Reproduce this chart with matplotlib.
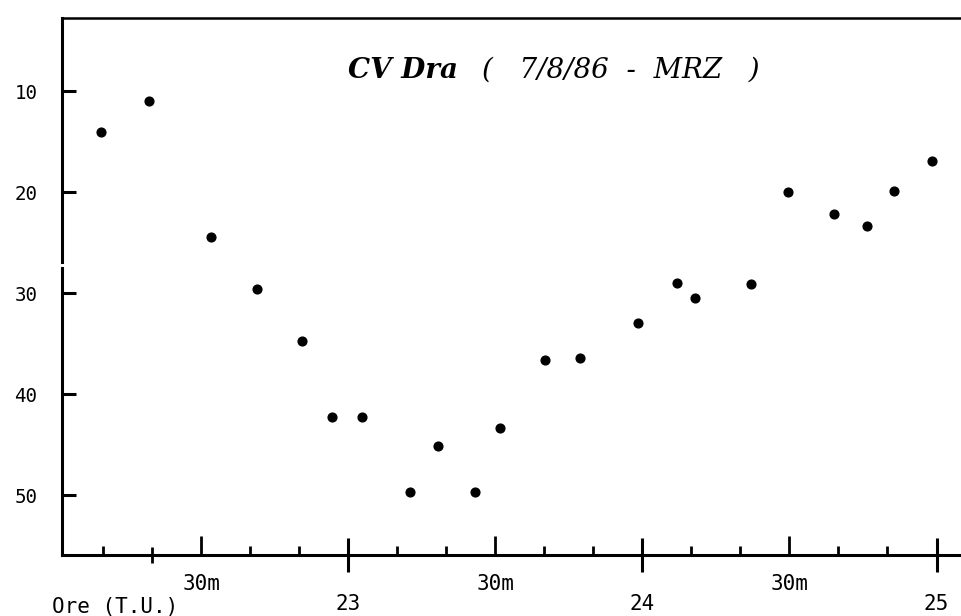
import numpy as np
import matplotlib.pyplot as plt

# minutes after 22h UT, and the plotted quantity (inverted scale)
minutes = [9.6, 19.4, 32.0, 41.4, 50.6, 56.8, 62.8, 72.6, 78.4, 85.8, 90.9,
           100.1, 107.2, 119.2, 127.1, 130.7, 142.1, 149.7, 159.1, 165.8,
           171.3, 179.0]
values = [14.1, 11.0, 24.4, 29.6, 34.7, 42.2, 42.2, 49.7, 45.1, 49.7, 43.3,
          36.6, 36.4, 32.9, 29.0, 30.5, 29.1, 20.0, 22.2, 23.4, 19.9, 16.9]

hour_ticks = [60, 120, 180]
hour_labels = ['23', '24', '25']
half_ticks = [30, 90, 150]
half_labels = ['30m', '30m', '30m']
ten_min_ticks = [10, 40, 50, 70, 80, 100, 110, 130, 140, 160, 170]
y_ticks = [10, 20, 30, 40, 50]

title_bold = 'CV Dra'
title_rest = '(   7/8/86  -  MRZ   )'
x_name = 'Ore (T.U.)'

mono = 'DejaVu Sans Mono'
lw = 2.2

fig = plt.figure(figsize=(9.62, 6.16), dpi=100)
ax = fig.add_axes([0.0648, 0.099, 0.9352, 0.872])

ax.plot(minutes, values, 'o', color='black', markersize=6.3, clip_on=False)

ax.set_xlim(1.7, 185.2)
ax.set_ylim(55.9, 2.76)

ax.spines['right'].set_visible(False)
ax.spines['left'].set_visible(False)
ax.spines['top'].set_linewidth(1.8)
ax.spines['bottom'].set_linewidth(lw)

# left axis drawn in two pieces with a small gap
ytr = ax.get_yaxis_transform()
ax.plot([0, 0], [55.9, 27.5], transform=ytr, color='black', lw=lw,
        clip_on=False, solid_capstyle='projecting')
ax.plot([0, 0], [26.9, 2.76], transform=ytr, color='black', lw=lw,
        clip_on=False, solid_capstyle='projecting')

ax.set_yticks(y_ticks)
ax.set_yticklabels([str(v) for v in y_ticks], family=mono, fontsize=13.8)
ax.tick_params(axis='y', direction='in', length=10, width=lw, pad=18)

ax.set_xticks(hour_ticks)
ax.set_xticklabels(hour_labels, family=mono, fontsize=15)
ax.tick_params(axis='x', which='major', direction='inout', length=24,
               width=lw, pad=16)
ax.set_xticks(ten_min_ticks, minor=True)
ax.tick_params(axis='x', which='minor', direction='in', length=6.5,
               width=2)

sec = ax.secondary_xaxis('bottom')
sec.spines['bottom'].set_visible(False)
sec.set_xticks(half_ticks)
sec.set_xticklabels(half_labels, family=mono, fontsize=15)
sec.tick_params(axis='x', which='major', direction='in', length=14,
                width=2, pad=14)
sec.set_xticks([20], minor=True)
sec.tick_params(axis='x', which='minor', direction='inout', length=12,
                width=2)

fig.text(348 / 962, 1 - 78 / 616, title_bold, family='DejaVu Serif',
         style='italic', weight='bold', fontsize=20, va='baseline')
fig.text(482 / 962, 1 - 78 / 616, title_rest, family='DejaVu Serif',
         style='italic', fontsize=20, va='baseline')

fig.text(52 / 962, 1 - 613 / 616, x_name, family=mono, fontsize=15,
         va='baseline')

fig.savefig('out.png', dpi=100)
